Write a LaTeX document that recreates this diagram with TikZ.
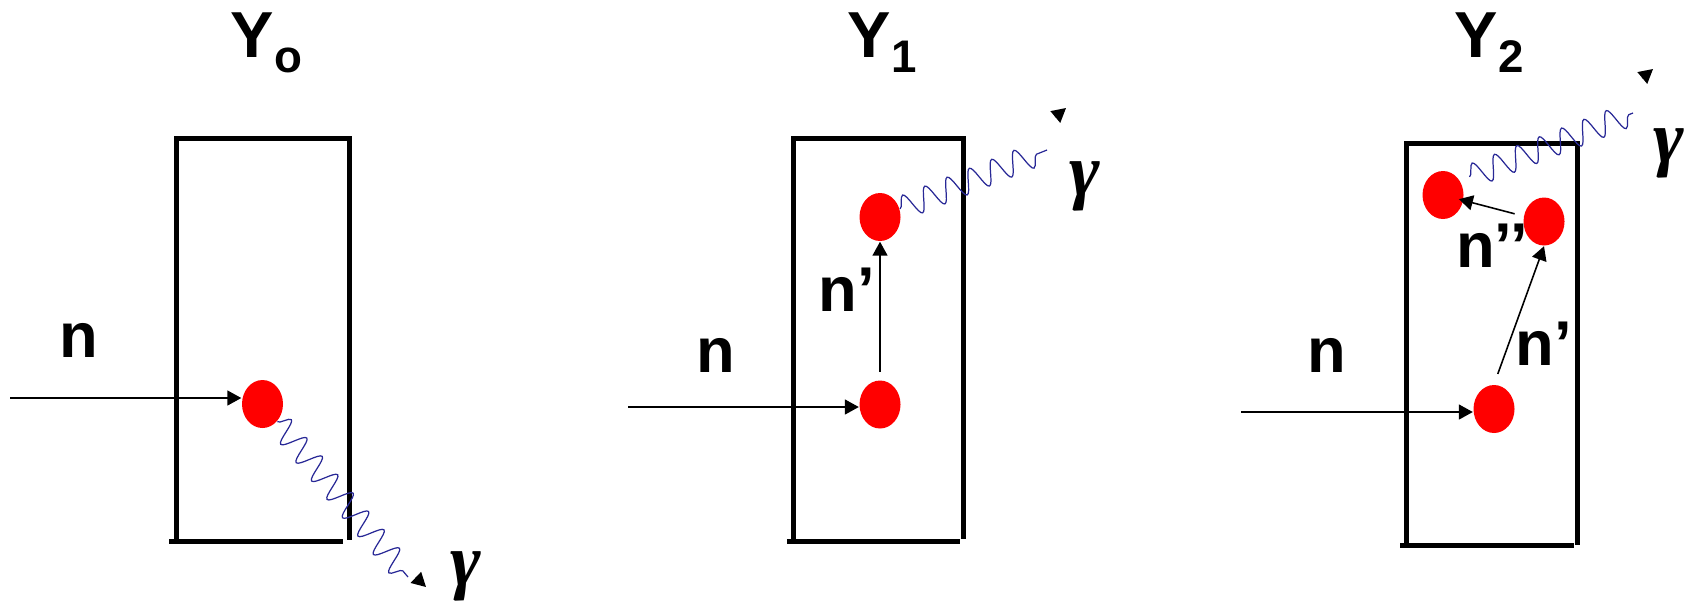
\documentclass[tikz,border=0pt]{standalone}
\usepackage{fontspec}
\setmainfont{Liberation Sans}
\newfontfamily\gamfont{Liberation Serif}
\usepackage{tikz}
\usetikzlibrary{shapes.geometric, arrows.meta, decorations.pathmorphing}
\usepackage{xcolor}
\definecolor{nucred}{RGB}{255, 0, 0}
\definecolor{wavenavy}{RGB}{40, 40, 150}
\newcommand{\ysub}[1]{\raisebox{-0.15cm}{\fontsize{13}{13}\selectfont #1}}

\begin{document}
\begin{tikzpicture}[
    lbl/.style={font=\fontsize{18}{18}\selectfont\bfseries, inner sep=0pt, anchor=base},
    gam/.style={font=\fontsize{21}{21}\selectfont\gamfont\bfseries\itshape, inner sep=0pt},
    ttl/.style={font=\fontsize{18.5}{18.5}\selectfont\bfseries, inner sep=0pt, anchor=base west},
    nuc/.style={ellipse, fill=nucred, minimum width=0.41cm, minimum height=0.48cm, inner sep=0pt},
    boxline/.style={line width=0.05cm},
    narr/.style={-{Triangle[length=0.14cm, width=0.15cm]}, line width=0.45pt},
    wave/.style={decorate, decoration={snake, amplitude=0.12cm, segment length=0.24cm}, draw=wavenavy, line width=0.35pt},
]
\useasboundingbox (0,0) rectangle (16.87,6.02);

% titres
\node[ttl] (t0) at (2.30, 5.45)  {Y\ysub{o}};
\node[ttl] (t1) at (8.47, 5.45)  {Y\ysub{1}};
\node[ttl] (t2) at (14.54, 5.45) {Y\ysub{2}};

% cibles
\draw[boxline] (1.76,0.61) |- (3.49,4.64) -- (3.49,0.62);
\draw[boxline] (1.69,0.61) -- (3.43,0.61);
\draw[boxline] (7.93,0.61) |- (9.63,4.64) -- (9.63,0.63);
\draw[boxline] (7.87,0.61) -- (9.60,0.61);
\draw[boxline] (14.06,0.57) |- (15.80,4.59);
\draw[boxline] (15.77,4.59) -- (15.77,0.57);
\draw[boxline] (14.00,0.57) -- (15.74,0.57);

% noyaux
\node[nuc] (d0)  at (2.625, 1.98) {};
\node[nuc] (d1a) at (8.80, 1.975) {};
\node[nuc] (d1b) at (8.80, 3.85)  {};
\node[nuc] (d2a) at (14.94, 1.93) {};
\node[nuc] (d2b) at (15.44, 3.805) {};
\node[nuc] (d2c) at (14.43, 4.07) {};

% neutrons entrants
\coordinate (n0s) at (0.10, 2.04);
\coordinate (n1s) at (6.28, 1.95);
\coordinate (n2s) at (12.41, 1.90);
\draw[narr] (n0s) -- (n0s -| d0.west);
\draw[narr] (n1s) -- (n1s -| d1a.west);
\draw[narr] (n2s) -- (n2s -| d2a.west);

% neutrons diffuses
\draw[narr, shorten <=0.08cm] (d1a) -- (d1b);
\draw[narr, shorten <=0.11cm] (d2a.north) -- (d2b.south);
\draw[narr, shorten <=0.09cm, shorten >=-0.05cm] (d2b) -- (d2c);

% photons
\coordinate (g0e) at (4.08, 0.25);
\coordinate (g1e) at (10.47, 4.52);
\coordinate (g2e) at (16.33, 4.89);
\draw[wave] (d0) -- (g0e);
\draw[wave] (d1b) -- (g1e);
\draw[wave, decoration={pre=moveto, pre length=0.1cm}] (d2c.40) -- (g2e);

\coordinate (g0a) at (4.1585, 0.2464);
\coordinate (g0t) at (4.26, 0.15);
\coordinate (g1a) at (10.553, 4.85);
\coordinate (g1t) at (10.66, 4.94);
\coordinate (g2a) at (16.4225, 5.24);
\coordinate (g2t) at (16.53, 5.33);
\draw[narr] (g0a) -- (g0t);
\draw[narr] (g1a) -- (g1t);
\draw[narr] (g2a) -- (g2t);

% etiquettes
\node[lbl] (n0)   at (0.785, 2.45) {n};
\node[lbl] (n1)   at (7.16, 2.30)  {n};
\node[lbl] (n2)   at (13.27, 2.30) {n};
\node[lbl] (n1p)  at (8.47, 2.91)  {n’};
\node[lbl] (n2p)  at (15.44, 2.37) {n’};
\node[lbl] (n2pp) at (14.92, 3.35) {n’’};
\node[gam] (g0l)  at (4.66, 0.26)  {γ};
\node[gam] (g1l)  at (10.85, 4.16) {γ};
\node[gam] (g2l)  at (16.69, 4.49) {γ};

\end{tikzpicture}
\end{document}
